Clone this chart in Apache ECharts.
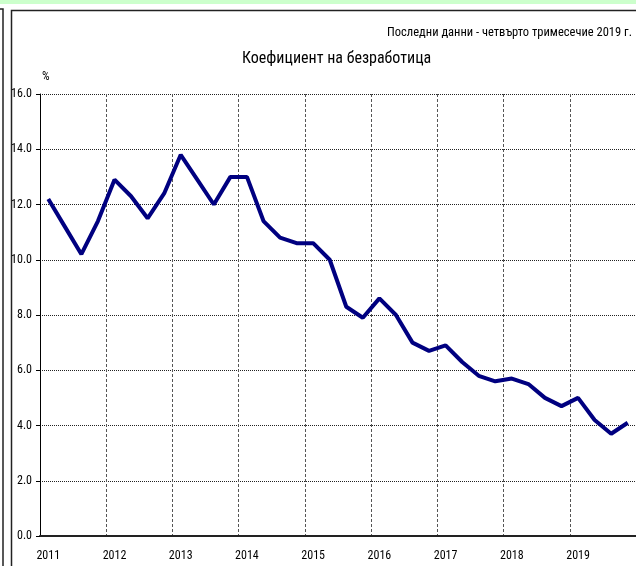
<!DOCTYPE html>
<html>
<head>
<meta charset="utf-8">
<script src="https://cdn.jsdelivr.net/npm/echarts@6/dist/echarts.min.js"></script>
<style>
  html, body { margin: 0; padding: 0; background: #fff; }
  #chart { width: 636px; height: 566px; }
</style>
</head>
<body>
<div id="chart"></div>
<script>
// години и тримесечия
var years = ['2011', '2012', '2013', '2014', '2015', '2016', '2017', '2018', '2019'];
var quarters = ['I', 'II', 'III', 'IV'];
// коефициент на безработица, % (по тримесечия)
var rates = [
  12.2, 11.2, 10.2, 11.4,
  12.9, 12.3, 11.5, 12.4,
  13.8, 12.9, 12.0, 13.0,
  13.0, 11.4, 10.8, 10.6,
  10.6, 10.0, 8.3, 7.9,
  8.6, 8.0, 7.0, 6.7,
  6.9, 6.3, 5.8, 5.6,
  5.7, 5.5, 5.0, 4.7,
  5.0, 4.2, 3.7, 4.1
];
var titleText = 'Коефициент на безработица';
var noteText = 'Последни данни - четвърто тримесечие 2019 г.';

var categories = [];
for (var i = 0; i < years.length; i++) {
  for (var j = 0; j < quarters.length; j++) {
    categories.push(years[i] + ' ' + quarters[j]);
  }
}

var fnt = '"Roboto Condensed", "DejaVu Sans Condensed", sans-serif';
var myChart = echarts.init(document.getElementById('chart'));
var option = {
  animation: false,
  backgroundColor: '#fff',
  textStyle: { fontFamily: fnt },
  graphic: [
    { type: 'rect', shape: { x: 0, y: 0, width: 636, height: 4 }, style: { fill: '#ccffcc' } },
    { type: 'polyline', shape: { points: [[0, 9], [3, 9], [3, 566]] }, style: { stroke: '#222', lineWidth: 1.5, fill: null } },
    { type: 'polyline', shape: { points: [[636, 10.5], [11.5, 10.5], [11.5, 566]] }, style: { stroke: '#222', lineWidth: 1.5, fill: null } },
    { type: 'text', right: 4, top: 26, style: { text: noteText, font: '12.5px ' + fnt, fill: '#000' } },
    { type: 'text', left: 242, top: 51, style: { text: titleText, font: '16px ' + fnt, fill: '#000' } },
    { type: 'text', left: 42, top: 71, style: { text: '%', font: '12px ' + fnt, fill: '#000' } }
  ],
  grid: { left: 40, top: 94, width: 600, height: 442 },
  xAxis: {
    type: 'category',
    data: categories,
    boundaryGap: true,
    axisLine: { lineStyle: { color: '#222', width: 2 } },
    axisTick: { interval: 3, length: 6, lineStyle: { color: '#222' } },
    axisLabel: {
      interval: 3, margin: 14, color: '#000', fontSize: 12, fontFamily: fnt,
      formatter: function (v) { return v.split(' ')[0]; }
    },
    splitLine: { show: true, interval: 3, lineStyle: { color: '#555', type: [3, 2], width: 1 } }
  },
  yAxis: {
    type: 'value',
    min: 0, max: 16, interval: 2,
    axisLine: { show: true, lineStyle: { color: '#000', width: 1 } },
    axisTick: { show: true, length: 4, lineStyle: { color: '#000' } },
    axisLabel: {
      margin: 8, color: '#000', fontSize: 12, fontFamily: fnt,
      formatter: function (v) { return v.toFixed(1); }
    },
    splitLine: { lineStyle: { color: '#222', type: [1, 1], width: 1 } }
  },
  series: [{
    type: 'line',
    data: rates,
    symbol: 'none',
    lineStyle: { color: '#000080', width: 4 },
    z: 5
  }]
};
myChart.setOption(option);
</script>
</body>
</html>
